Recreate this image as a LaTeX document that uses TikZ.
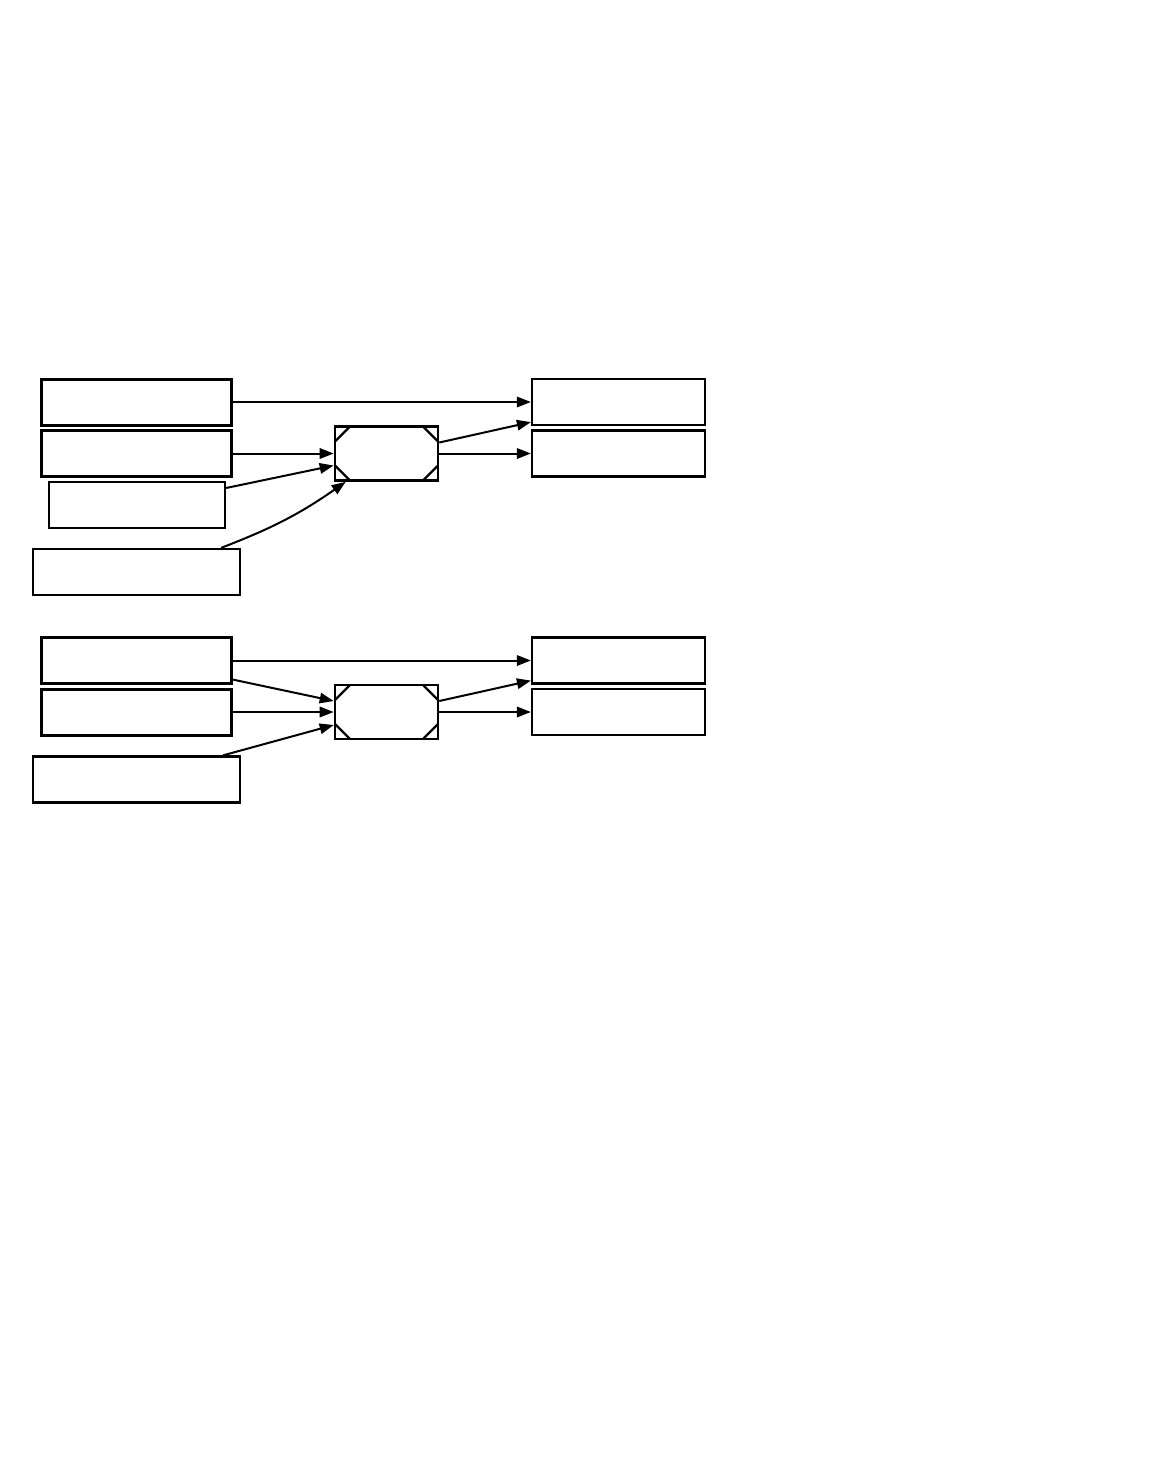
\documentclass[tikz,border=0pt]{standalone}
\usepackage{tikz}
\usetikzlibrary{arrows.meta, positioning, calc}
\tikzset{
	inbox/.style   ={rectangle, draw=black, line width=0.75mm, minimum width=47.25mm, minimum height=11.5mm, inner sep=0pt},
	widebox/.style ={rectangle, draw=black, line width=0.6mm, minimum width=51.75mm, minimum height=11.5mm, inner sep=0pt},
	outbox/.style  ={rectangle, draw=black, line width=0.55mm, minimum width=43.25mm, minimum height=11.5mm, inner sep=0pt},
	% hub block with cut corner marks
	hub/.style     ={rectangle, draw=black, line width=0.65mm, minimum width=25.75mm, minimum height=13.5mm, inner sep=0pt,
		path picture={
			\draw[line width=0.6mm] ([xshift=3.75mm]path picture bounding box.north west) -- ([yshift=-3.75mm]path picture bounding box.north west);
			\draw[line width=0.6mm] ([xshift=-3.75mm]path picture bounding box.north east) -- ([yshift=-3.75mm]path picture bounding box.north east);
			\draw[line width=0.6mm] ([xshift=3.75mm]path picture bounding box.south west) -- ([yshift=3.75mm]path picture bounding box.south west);
			\draw[line width=0.6mm] ([xshift=-3.75mm]path picture bounding box.south east) -- ([yshift=3.75mm]path picture bounding box.south east);
		}},
	link/.style    ={-{Triangle[length=3.5mm, width=2.6mm]}, line width=0.5mm},
}
\begin{document}
\begin{tikzpicture}[x=0.25mm, y=0.25mm]
	\useasboundingbox (0,0) rectangle (1152,-1466);
	% upper group
	\node[inbox] (a1) at (136.5,-402) {};
	\node[inbox] (a2) at (136.5,-453.5) {};
	\node[outbox, minimum width=44mm] (a3) at (137,-505) {};
	\node[widebox] (a4) at (136.5,-572) {};
	\node[hub] (h1) at (386.5,-453.5) {};
	\node[outbox] (b1) at (618.5,-402) {};
	\node[outbox] (b2) at (618.5,-453.5) {};
	\draw[link] (a1.east) -- (b1.west);
	\draw[link] (a2.east) -- (h1.west);
	\draw[link] ([yshift=4.25mm]a3.east) -- ([yshift=-3mm]h1.west);
	\draw[link] ([xshift=-5mm]a4.north east) to[bend right=7] ([xshift=3mm]h1.south west);
	\draw[link] ([yshift=2.75mm]h1.east) -- ([yshift=1mm]b1.south west);
	\draw[link] (h1.east) -- (b2.west);
	% lower group
	\node[inbox] (c1) at (136.5,-660.5) {};
	\node[inbox] (c2) at (136.5,-712) {};
	\node[widebox] (c3) at (136.5,-779.5) {};
	\node[hub] (h2) at (386.5,-712) {};
	\node[outbox] (d1) at (618.5,-660.5) {};
	\node[outbox] (d2) at (618.5,-712) {};
	\draw[link] (c1.east) -- (d1.west);
	\draw[link] ([yshift=-4.75mm]c1.east) -- ([yshift=2.75mm]h2.west);
	\draw[link] (c2.east) -- (h2.west);
	\draw[link] ([xshift=-4.5mm]c3.north east) -- ([yshift=-3.25mm]h2.west);
	\draw[link] ([yshift=2.75mm]h2.east) -- ([yshift=1mm]d1.south west);
	\draw[link] (h2.east) -- (d2.west);
\end{tikzpicture}
\end{document}
